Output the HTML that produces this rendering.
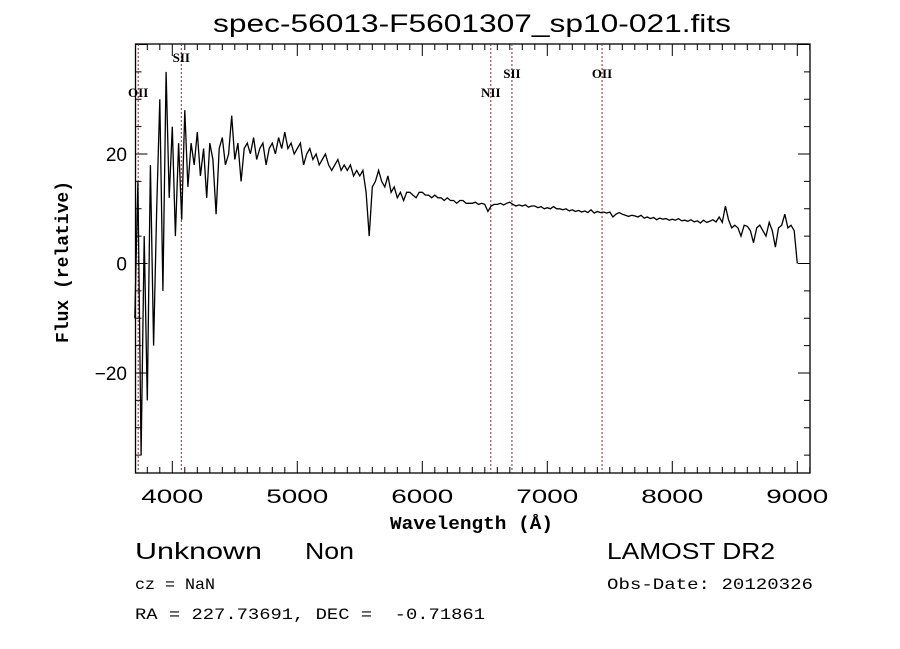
<!DOCTYPE html>
<html><head><meta charset="utf-8"><style>
body{margin:0;background:#fff;}
svg{display:block;}
text{fill:#000;}
</style></head><body>
<svg id="chart" width="900" height="649" xmlns="http://www.w3.org/2000/svg">
<rect width="900" height="649" fill="#fff"/>
<text x="213" y="32" textLength="518" lengthAdjust="spacingAndGlyphs" font-family="Liberation Sans, sans-serif" font-size="25">spec-56013-F5601307_sp10-021.fits</text>
<g id="axes"></g>
<g id="lines"></g>
<path id="spec" fill="none" stroke="#000" stroke-width="1.3"/>
<text x="390" y="529" textLength="163" lengthAdjust="spacingAndGlyphs" font-family="Liberation Mono, monospace" font-weight="bold" font-size="18">Wavelength (Å)</text>
<text transform="translate(68,262) rotate(-90)" text-anchor="middle" font-family="Liberation Mono, monospace" font-weight="bold" font-size="18">Flux (relative)</text>
<text x="135" y="559" textLength="127" lengthAdjust="spacingAndGlyphs" font-family="Liberation Sans, sans-serif" font-size="23">Unknown</text>
<text x="305" y="559" textLength="49" lengthAdjust="spacingAndGlyphs" font-family="Liberation Sans, sans-serif" font-size="23">Non</text>
<text x="607" y="559" textLength="168" lengthAdjust="spacingAndGlyphs" font-family="Liberation Sans, sans-serif" font-size="23">LAMOST DR2</text>
<text x="135" y="589" textLength="80" lengthAdjust="spacingAndGlyphs" font-family="Liberation Mono, monospace" font-size="16">cz = NaN</text>
<text x="607" y="589" textLength="206" lengthAdjust="spacingAndGlyphs" font-family="Liberation Mono, monospace" font-size="16">Obs-Date: 20120326</text>
<text x="135" y="619" textLength="350" lengthAdjust="spacingAndGlyphs" font-family="Liberation Mono, monospace" font-size="16" xml:space="preserve">RA = 227.73691, DEC =  -0.71861</text>
</svg>
<script>
const waveStart = 3700;
const waveStep = 25;
const flux = [
-10,15,-35,5, -25,18,-15,10, 30,-5,35,12, 25,5,22,8,
28,14,22,18, 24,16,21,12, 22,19,9,21, 23,18,20,27,
19,22,15,21, 22,20,23,19, 21,22,18,21, 22,20,23,21,
24,21,22,20, 21,22,18,20, 21,19,20,18, 19,20,18,17,
18,19,17,18, 17,18,16,17, 16,17,13,5, 14,15,17,15,
14,16,13,14, 12,13,11.5,13, 13,12.5,12,13, 13,12.5,12.5,12,
12.5,12,12,11.5, 12,11.5,11.5,11, 11.5,11.5,11,11, 11,11.2,10.8,11,
10.8,9.5,10.5,10.8, 10.8,11,10.7,11, 11.2,10.8,10.5,10.7, 10.5,10.7,10.3,10.5,
10.5,10.2,10.4,10, 10.2,10,10.4,10, 10,9.8,10,9.6, 9.8,9.5,9.7,9.4,
9.6,9.3,9.8,9.2, 9.5,9.3,9.4,9.2, 9.4,8.5,9,9.3, 9,8.8,8.6,8.8,
8.7,8.5,8.8,8.3, 8.5,8.2,8.4,8, 8.3,8.1,8.2,7.9, 8.1,7.9,8.2,7.8,
7.9,7.7,8,7.6, 7.8,7.4,7.9,7.5, 7.7,8,7.6,8.5, 7.5,10.5,8,6.5,
7,6.5,5,7, 6.8,6,3.8,6.5, 7,6,5,7.5, 6,3,6.5,7,
9,6.5,7,6, 0
];
const xTicks = [4000,5000,6000,7000,8000,9000];
const yTicks = [-20,0,20];
const lineNames = ["OII","SII","NII","SII","OII"];
const lineWaves = [3727,4072,6548,6717,7438];
const lineLabelY = [97,62,97,78,78];

const X0=135.5,X1=810,Y0=44,Y1=473;
const xs = w => 172.3 + (w-4000)*0.125;
const ys = f => 263.5 - f*5.475;
const NS="http://www.w3.org/2000/svg";
function mk(tag, attrs, parent){const e=document.createElementNS(NS,tag);for(const k in attrs)e.setAttribute(k,attrs[k]);parent.appendChild(e);return e;}
const ax=document.getElementById('axes');
const frame=mk('rect',{x:X0,y:Y0,width:X1-X0,height:Y1-Y0,fill:'none',stroke:'#000','stroke-width':1.3},ax);


for(let w=3800; w<=9100; w+=100){
  const x=xs(w); if(x<X0||x>X1) continue;
  const major = w%1000===0; const L = major?12:6;
  const t1=mk('line',{x1:x,x2:x,y1:Y1,y2:Y1-L,stroke:'#000'},ax);
  
  
  const t2=mk('line',{x1:x,x2:x,y1:Y0,y2:Y0+L,stroke:'#000'},ax);
  
  
}
xTicks.forEach(w=>{
  const t=mk('text',{x:xs(w)-31,y:503,textLength:62,lengthAdjust:'spacingAndGlyphs','font-family':'Liberation Sans, sans-serif','font-size':19},ax);
  t.textContent=w;
  
  
});
for(let f=-35; f<=40; f+=5){
  const y=ys(f); if(y<Y0||y>Y1) continue;
  const major=f%20===0; const L=major?12:6;
  const t1=mk('line',{x1:X0,x2:X0+L,y1:y,y2:y,stroke:'#000'},ax);
  
  
  const t2=mk('line',{x1:X1,x2:X1-L,y1:y,y2:y,stroke:'#000'},ax);
  
  
}
yTicks.forEach(f=>{
  const t=mk('text',{x:127,y:ys(f)+7,'text-anchor':'end','font-family':'Liberation Sans, sans-serif','font-size':19},ax);
  t.textContent=(f<0?'\u2212':'')+Math.abs(f);
  
  
});
const lg=document.getElementById('lines');
lineWaves.forEach((w,i)=>{
  const x=xs(w);
  const l=mk('line',{x1:x,x2:x,y1:Y0,y2:Y1,stroke:'#8b2a2a','stroke-width':1,'stroke-dasharray':'2,2'},lg);
  
  
  const t=mk('text',{x:x,y:lineLabelY[i],'text-anchor':'middle','font-family':'Liberation Serif, serif','font-size':13,'font-weight':'bold'},lg);
  t.textContent=lineNames[i];
  
  
});
let d='';
flux.forEach((f,i)=>{const x=xs(waveStart+i*waveStep), y=Math.min(Y1,Math.max(Y0,ys(f))); d+=(i?'L':'M')+x.toFixed(1)+' '+y.toFixed(1);});
document.getElementById('spec').setAttribute('d',d);
</script>
</body></html>
